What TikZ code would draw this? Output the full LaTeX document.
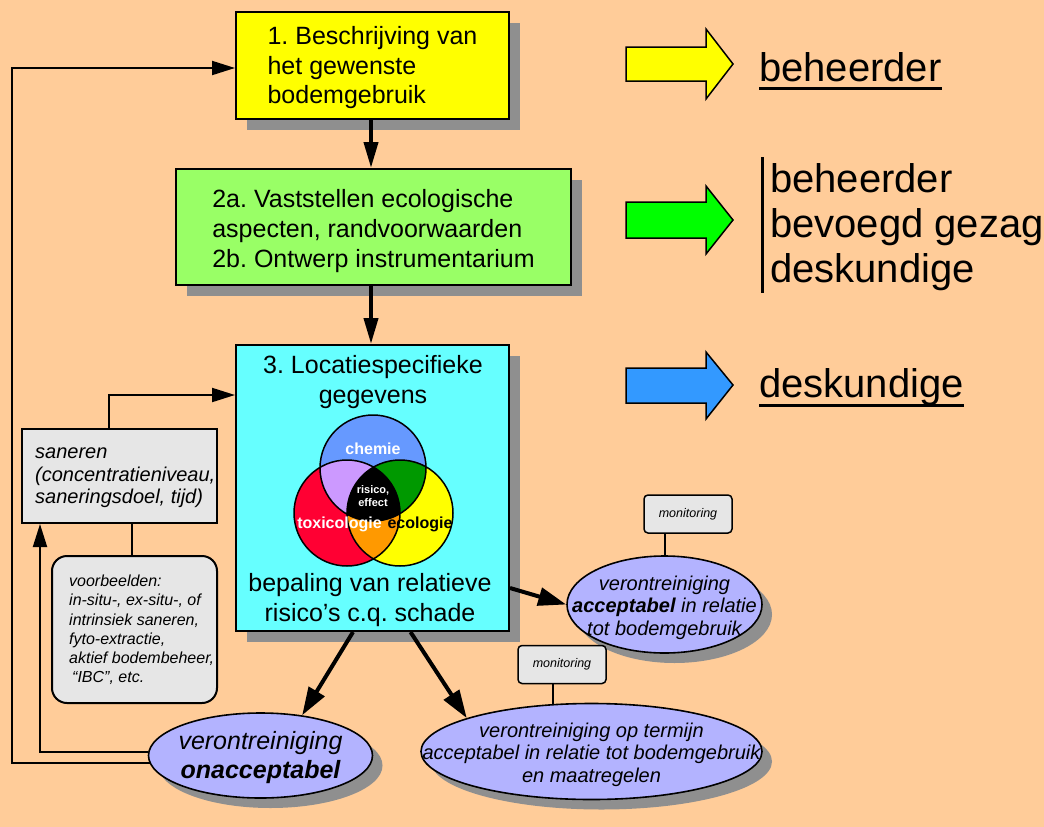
\documentclass[tikz,border=0pt]{standalone}
\usepackage{fontspec}
\setmainfont{Liberation Sans}
\frenchspacing
\usetikzlibrary{shapes.geometric,shadows,calc,arrows.meta}
\definecolor{bgpeach}{HTML}{FFCC99}
\definecolor{boxyellow}{HTML}{FFFF00}
\definecolor{boxgreen}{HTML}{99FF66}
\definecolor{boxcyan}{HTML}{66FFFF}
\definecolor{shadowgray}{HTML}{8F8F8F}
\definecolor{lav}{HTML}{B3B3FF}
\definecolor{lightg}{HTML}{E6E6E6}
\definecolor{arrblue}{HTML}{3399FF}
\definecolor{arrgreen}{HTML}{00FF00}
\definecolor{chemblue}{HTML}{6699FF}
\definecolor{toxred}{HTML}{FF0033}
\definecolor{ecoyellow}{HTML}{FFFF00}
\definecolor{ctpurple}{HTML}{CC99FF}
\definecolor{cegreen}{HTML}{009900}
\definecolor{teorange}{HTML}{FF9900}
\newcommand\myfA{\fontsize{25}{29.5}\selectfont}
\newcommand\myfB{\fontsize{25}{30}\selectfont}
\newcommand\myfH{\fontsize{40}{45}\selectfont}
\newcommand\myfS{\fontsize{20}{22.5}\selectfont\itshape}
\newcommand\myfV{\fontsize{16}{19.2}\selectfont\itshape}
\newcommand\myfE{\fontsize{20}{22.5}\selectfont\itshape}
\newcommand\myfEE{\fontsize{25}{29}\selectfont\itshape}
\newcommand\myfM{\fontsize{12.5}{15}\selectfont\itshape}
\newcommand\myfVenn{\fontsize{16}{19}\selectfont\bfseries}
\newcommand\myfR{\fontsize{11}{13}\selectfont\bfseries}
\begin{document}
\begin{tikzpicture}[x=1pt,y=-1pt,
  shadowed/.style={drop shadow={shadow xshift=11pt,shadow yshift=-11pt,fill=shadowgray,opacity=1}},
  eshadowed/.style={drop shadow={shadow xshift=10pt,shadow yshift=-10pt,fill=shadowgray,opacity=1}},
  mainbox/.style={rectangle,draw=black,line width=2pt,shadowed,inner sep=0pt},
  gbox/.style={rectangle,draw=black,line width=2pt,fill=lightg,inner sep=0pt},
  ell/.style={ellipse,draw=black,line width=1.6pt,fill=lav,eshadowed,inner sep=0pt},
  mon/.style={rectangle,rounded corners=4pt,draw=black,line width=1.5pt,fill=lightg,
    minimum width=88pt,minimum height=38pt,inner sep=0pt,font=\myfM},
  txt/.style={inner sep=0pt},
  bigarrow/.style={line width=4pt,-{Triangle[length=26pt,width=14pt]}},
  slarrow/.style={line width=4pt,-{Triangle[length=28pt,width=18pt]}},
  thinarrow/.style={line width=2pt,-{Triangle[length=23pt,width=14pt]}},
  plainline/.style={line width=2pt},
  blockarrow/.style={draw=black,line width=1.5pt,line join=miter},
  ]
\useasboundingbox (0,0) rectangle (1044,827);
\fill[bgpeach] (0,0) rectangle (1044,827);

% main boxes
\node[mainbox,fill=boxyellow,minimum width=273pt,minimum height=107pt] (b1) at (372.5,65) {};
\node[txt,align=left,font=\myfA] (t1) at (372.5,68) {1. Beschrijving van\\het gewenste\\bodemgebruik};
\node[mainbox,fill=boxgreen,minimum width=395pt,minimum height=116pt] (b2) at (373.5,227) {};
\node[txt,align=left,font=\myfB] (t2) at (373.5,231) {2a. Vaststellen ecologische\\aspecten, randvoorwaarden\\2b. Ontwerp instrumentarium};
\node[mainbox,fill=boxcyan,minimum width=273pt,minimum height=286pt] (b3) at (372.5,488) {};
\node[txt,align=center,font=\myfB] (t3a) at (373,382) {3. Locatiespecifieke\\gegevens};
\node[txt,align=center,font=\myfB] (t3b) at (370,600) {bepaling van relatieve\\risico’s c.q. schade};

% Venn diagram
\coordinate (vc) at (373,468);
\coordinate (vt) at (347,513);
\coordinate (ve) at (400,513);
\fill[chemblue] (vc) circle (53pt);
\fill[toxred] (vt) circle (53pt);
\fill[ecoyellow] (ve) circle (53pt);
\begin{scope}\clip (vc) circle (53pt); \fill[ctpurple] (vt) circle (53pt);\end{scope}
\begin{scope}\clip (vc) circle (53pt); \fill[cegreen] (ve) circle (53pt);\end{scope}
\begin{scope}\clip (vt) circle (53pt); \fill[teorange] (ve) circle (53pt);\end{scope}
\begin{scope}\clip (vc) circle (53pt); \clip (vt) circle (53pt); \fill[black] (ve) circle (53pt);\end{scope}
\draw[line width=1.5pt] (vc) circle (53pt) (vt) circle (53pt) (ve) circle (53pt);
\node[txt,text=white,font=\myfVenn] (lchem) at (373,449) {chemie};
\node[txt,text=white,font=\myfR,align=center] (lrisk) at (373,496) {risico,\\effect};
\node[txt,text=white,font=\myfVenn] (ltox) at (339.5,524) {toxicologie};
\node[txt,text=black,font=\myfVenn] (leco) at (420,524) {ecologie};

% ellipses
\node[ell,minimum width=195pt,minimum height=97pt] (e1) at (664.5,604.5) {};
\node[ell,minimum width=341pt,minimum height=96pt] (e2) at (591.5,751.5) {};
\node[ell,minimum width=224pt,minimum height=85pt] (e3) at (260.5,755.5) {};
\node[txt,align=center,font=\myfE] (e1t) at ($(e1)+(0,3)$) {verontreiniging\\\textbf{acceptabel} in relatie\\tot bodemgebruik};
\node[txt,align=center,font=\myfE] (e2t) at ($(e2)+(0,3)$) {verontreiniging op termijn\\acceptabel in relatie tot bodemgebruik\\en maatregelen};
\node[txt,align=center,font=\myfEE] (e3t) at ($(e3)+(0,2)$) {verontreiniging\\\textbf{onacceptabel}};

% monitoring boxes
\node[mon] (m1) at (688,514) {monitoring};
\node[mon] (m2) at (562,664.5) {monitoring};
\draw[plainline] (e1.north) -- (e1.north |- m1.south);
\draw[plainline] ($(m2.south)+(-9,0)$) -- ++(0,21);

% left boxes
\node[gbox,minimum width=195pt,minimum height=94pt] (s) at (119.5,476) {};
\node[txt,anchor=west,align=left,font=\myfS] (st) at (35,478) {saneren\\(concentratieniveau,\\saneringsdoel, tijd)};
\node[gbox,rounded corners=15pt,minimum width=165pt,minimum height=147pt] (v) at (134.5,629.5) {};
\node[txt,anchor=west,align=left,font=\myfV] (vt) at (69,630)
  {voorbeelden:\\in-situ-, ex-situ-, of\\intrinsiek saneren,\\fyto-extractie,\\aktief bodembeheer,\\\hspace*{3pt}“IBC”, etc.};

% connectors
\draw[bigarrow] (b1.south -| 371,0) -- (b2.north -| 371,0);
\draw[bigarrow] (b2.south -| 371,0) -- (b3.north -| 371,0);
\draw[slarrow] ($(b3.south)+(-19.5,0)$) -- (e3.44);
\draw[slarrow] ($(b3.south)+(38,0)$) -- (e2.165);
\draw[slarrow] ($(b3.east)+(0,100)$) -- (e1.west);
\draw[thinarrow] (e3.184) -| (12,68) -- ($(b1.west)+(0,3)$);
\draw[thinarrow] (e3.178) -| ($(s.south west)+(19,0)$);
\draw[thinarrow] ($(s.north)+(-11,0)$) |- ($(b3.west)+(0,-93)$);
\draw[plainline] ($(v.north)+(-3,0)$) -- ($(s.south)+(12,0)$);

% right side
\draw[blockarrow,fill=boxyellow] (626,47) -- (706,47) -- (706,29) -- (733,64) -- (706,99) -- (706,81) -- (626,81) -- cycle;
\draw[blockarrow,fill=arrgreen] (626,202) -- (706,202) -- (706,186) -- (733,220) -- (706,254) -- (706,238) -- (626,238) -- cycle;
\draw[blockarrow,fill=arrblue] (626,368) -- (706,368) -- (706,352) -- (733,385) -- (706,419) -- (706,403) -- (626,403) -- cycle;

\node[txt,anchor=base west,font=\myfH] (u1) at (759,81) {beheerder};
\draw[line width=3pt] ([yshift=-7pt]u1.base west) -- ([yshift=-7pt]u1.base east);
\node[txt,anchor=base west,font=\myfH] (u3) at (759,397) {deskundige};
\draw[line width=3pt] ([yshift=-8pt]u3.base west) -- ([yshift=-8pt]u3.base east);

\draw[line width=3pt] (762,157) -- (762,293);
\node[txt,anchor=base west,font=\myfH] (g1) at (770,192) {beheerder};
\node[txt,anchor=base west,font=\myfH] (g2) at (770,237) {bevoegd gezag};
\node[txt,anchor=base west,font=\myfH] (g3) at (770,282) {deskundige};
\end{tikzpicture}
\end{document}
